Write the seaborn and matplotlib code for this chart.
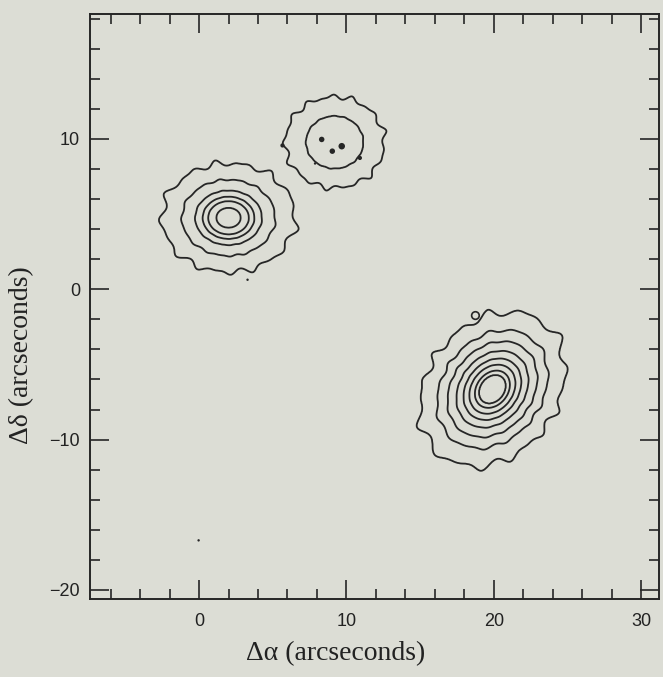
import numpy as np
import pandas as pd
import matplotlib
matplotlib.use("Agg")
import matplotlib.pyplot as plt
import seaborn as sns

# ---------------- data ----------------
source_names = ["A", "B", "C"]
source_x = [2.0, 9.2, 19.9]          # arcsec
source_y = [4.75, 9.77, -6.65]       # arcsec
source_axis_ratio = [0.80, 0.90, 0.78]
source_angle_deg = [0.0, 0.0, 50.0]
# contour radii along the major axis, outermost (level 1) -> innermost
radii_A = [4.50, 3.16, 2.26, 1.75, 1.38, 0.83]
radii_B = [3.35, 1.95]
radii_C = [5.59, 4.28, 3.47, 2.78, 2.23, 1.78, 1.35, 1.04]
contour_levels = [1, 2, 3, 4, 5, 6, 7, 8]

# isolated small peaks (tiny closed contours / noise dots)
dot_x = [8.32, 9.68, 9.04, 10.91, 5.66, 7.87, 3.29, -0.03]
dot_y = [9.96, 9.51, 9.18, 8.73, 9.56, 8.36, 0.63, -16.70]
dot_w = [3, 4, 3, 2, 2, 1, 1, 1]
loop_x = [18.75]
loop_y = [-1.75]

x_major = [0, 10, 20, 30]
y_major = [-20, -10, 0, 10]
x_label = "Δα (arcseconds)"
y_label = "Δδ (arcseconds)"

# ---------------- style ----------------
bg = "#dcddd5"
ink = "#262626"
sns.set_style("ticks")
plt.rcParams["font.family"] = ["Liberation Sans", "DejaVu Sans"]

fig = plt.figure(figsize=(6.63, 6.77), dpi=100, facecolor=bg)
ax = fig.add_axes([0.1357, 0.1152, 0.8582, 0.8641])
ax.set_facecolor(bg)

xlim = (-7.4, 31.2)
ylim = (-20.6, 18.3)

# brightness field built from the read contour radii
gx = np.arange(xlim[0], xlim[1], 0.04)
gy = np.arange(ylim[0], ylim[1], 0.04)
X, Y = np.meshgrid(gx, gy)
F = np.zeros_like(X)
all_radii = [radii_A, radii_B, radii_C]
phases = [(0.3, 1.7), (2.1, 0.4), (1.1, 2.9)]
for cx, cy, q, ang, radii, ph in zip(source_x, source_y, source_axis_ratio,
                                     source_angle_deg, all_radii, phases):
    t = np.deg2rad(ang)
    dx, dy = X - cx, Y - cy
    u = dx * np.cos(t) + dy * np.sin(t)
    v = -dx * np.sin(t) + dy * np.cos(t)
    rho = np.sqrt(u ** 2 + (v / q) ** 2)
    phi = np.arctan2(v, u)
    rout = radii[0]
    wob = 0.06 * np.clip(rho / rout, 0, 1.3) ** 2.5 * (
        0.6 * np.sin(13 * phi + ph[0]) + 0.4 * np.sin(19 * phi + ph[1]))
    rho_e = rho * (1 + wob)
    n = len(radii)
    xp = [0.0] + list(radii[::-1]) + [rout * 1.6]
    fp = [n + 0.5] + list(range(n, 0, -1)) + [0.0]
    F = np.maximum(F, np.interp(rho_e, xp, fp))

ax.contour(X, Y, F, levels=contour_levels, colors=ink, linewidths=1.3)

dots = pd.DataFrame({"x": dot_x, "y": dot_y, "w": dot_w})
sns.scatterplot(data=dots, x="x", y="y", size="w", sizes=(3, 22),
                color=ink, linewidth=0, legend=False, ax=ax)
loops = pd.DataFrame({"x": loop_x, "y": loop_y})
sns.scatterplot(data=loops, x="x", y="y", marker="o", s=30,
                facecolor="none", edgecolor=ink, linewidth=1.2,
                legend=False, ax=ax)

ax.set_xlim(*xlim)
ax.set_ylim(*ylim)
ax.set_xticks(x_major)
ax.set_xticks(np.arange(-6, 31, 2), minor=True)
ax.set_yticks(y_major)
ax.set_yticks(np.arange(-20, 19, 2), minor=True)
ax.set_xticklabels([str(v) for v in x_major])
ax.set_yticklabels([str(v).replace("-", "\u2212") for v in y_major])
ax.tick_params(which="both", direction="in", top=True, right=True,
               colors=ink, labelcolor="#222222", width=1.2)
ax.tick_params(which="major", length=14, labelsize=13)
ax.tick_params(axis="x", which="major", pad=10)
ax.tick_params(axis="y", which="major", pad=7)
ax.tick_params(which="minor", length=7)
for s in ax.spines.values():
    s.set_visible(True)
    s.set_color(ink)
    s.set_linewidth(1.4)

serif = ["Liberation Serif", "DejaVu Serif"]
ax.set_xlabel(x_label, family=serif, fontsize=20, color="#222222", va="center")
ax.set_ylabel(y_label, family=serif, fontsize=20, color="#222222", va="center")
ax.xaxis.set_label_coords(0.432, -0.094)
ax.yaxis.set_label_coords(-0.12, 0.417)

fig.savefig("out.png", dpi=100, facecolor=bg)
